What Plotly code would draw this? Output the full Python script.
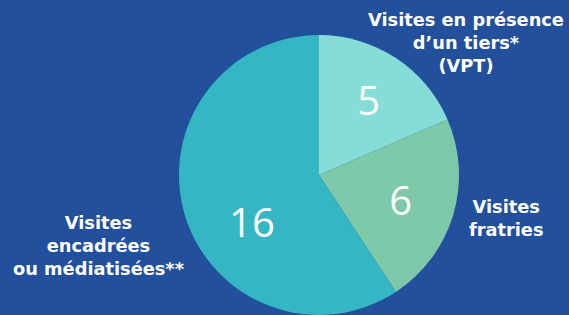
import plotly.graph_objects as go

categories = ["Visites en présence<br>d’un tiers*<br>(VPT)", "Visites<br>fratries", "Visites<br>encadrées<br>ou médiatisées**"]
values = [5, 6, 16]
colors = ["#86ddd8", "#7dc9a9", "#35b6c3"]

W, H = 569, 315
cx, r = 319, 140

fig = go.Figure(go.Pie(
    labels=categories,
    values=values,
    sort=False,
    direction="clockwise",
    rotation=0,
    marker=dict(colors=colors, line=dict(width=0)),
    texttemplate=["%{value}", "%{value}", "\u00a0<br>%{value}"],
    textposition="inside",
    insidetextorientation="horizontal",
    insidetextfont=dict(family="Open Sans", size=40, color="white"),
    hoverinfo="label+value",
    showlegend=False,
    domain=dict(x=[(cx - r) / W, (cx + r) / W], y=[0, 2 * r / H]),
))

label_font = dict(family="DejaVu Sans", size=17.8, color="white", weight="bold")
label_pos = [(466, 43), (506, 218), (98, 245)]
for text, (x, y) in zip(categories, label_pos):
    fig.add_annotation(text=text, x=x / W, y=1 - y / H, xref="paper", yref="paper",
                       showarrow=False, font=label_font, align="center",
                       xanchor="center", yanchor="middle")

fig.update_layout(
    width=W, height=H,
    margin=dict(l=0, r=0, t=0, b=0),
    paper_bgcolor="#22509c",
    plot_bgcolor="#22509c",
)

fig.write_html("out.html", config={"displayModeBar": False},
               post_script="document.body.style.margin='0';document.body.style.overflow='hidden';")
